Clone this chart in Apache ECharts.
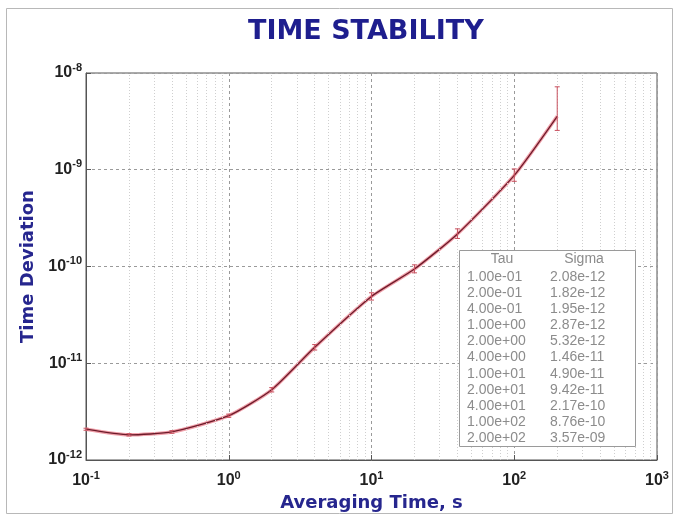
<!DOCTYPE html>
<html><head><meta charset="utf-8">
<script src="https://cdn.jsdelivr.net/npm/echarts@6/dist/echarts.min.js"></script>
<style>html,body{margin:0;padding:0;background:#fff}#c{width:674px;height:518px}</style>
</head><body><div id="c"></div>
<script>
// ---- data ----
const tau = [0.1, 0.2, 0.4, 1, 2, 4, 10, 20, 40, 100, 200];
const sigma = [2.08e-12, 1.82e-12, 1.95e-12, 2.87e-12, 5.32e-12, 1.46e-11, 4.90e-11, 9.42e-11, 2.17e-10, 8.76e-10, 3.57e-9];
const errLow = [2.03e-12, 1.77e-12, 1.89e-12, 2.76e-12, 5.05e-12, 1.37e-11, 4.5e-11, 8.6e-11, 1.95e-10, 7.6e-10, 2.55e-9];
const errHigh = [2.13e-12, 1.87e-12, 2.01e-12, 2.98e-12, 5.6e-12, 1.56e-11, 5.35e-11, 1.04e-10, 2.45e-10, 1.02e-9, 7.2e-9];
const xTickExp = [-1, 0, 1, 2, 3];
const yTickExp = [-12, -11, -10, -9, -8];
const titleText = 'TIME STABILITY';
const xName = 'Averaging Time, s';
const yName = 'Time Deviation';
const tableHead = ['Tau', 'Sigma'];

// ---- helpers ----
function fmtE(v) {
  const parts = v.toExponential(2).split('e');
  const e = +parts[1];
  return parts[0] + 'e' + (e < 0 ? '-' : '+') + String(Math.abs(e)).padStart(2, '0');
}
function expLabel(list) {
  return function (v) {
    const e = Math.round(Math.log10(v));
    if (list.indexOf(e) < 0) return '';
    return '{b|10}{s|' + e + '}';
  };
}
const minorX = [], minorY = [];
for (let d = xTickExp[0]; d < xTickExp[xTickExp.length - 1]; d++)
  for (let k = 2; k <= 9; k++) minorX.push(k * Math.pow(10, d));
for (let d = yTickExp[0]; d < yTickExp[yTickExp.length - 1]; d++)
  for (let k = 2; k <= 9; k++) minorY.push(k * Math.pow(10, d));

const lineData = tau.map((t, i) => [t, sigma[i]]);
const errData = tau.map((t, i) => [t, errLow[i], errHigh[i]]);

const rich = {
  b: { fontSize: 16, fontWeight: 'bold', color: '#222', fontFamily: 'Liberation Sans' },
  s: { fontSize: 11, fontWeight: 'bold', color: '#222', fontFamily: 'Liberation Sans', padding: [0, 0, 11, 0] }
};

const chart = echarts.init(document.getElementById('c'));
const rowsTau = tau.map(fmtE).join('\n');
const rowsSig = sigma.map(fmtE).join('\n');

chart.setOption({
  animation: false,
  backgroundColor: '#fff',
  title: {
    text: titleText, left: 243, top: 13,
    textStyle: { fontFamily: 'DejaVu Sans', fontWeight: 'bold', fontSize: 27, color: '#1e1e8e' }
  },
  grid: { left: 86, top: 73, right: 17, bottom: 58, show: true, borderColor: '#555', borderWidth: 1, backgroundColor: 'transparent' },
  xAxis: {
    type: 'log', logBase: 10, min: Math.pow(10, xTickExp[0]), max: Math.pow(10, xTickExp[xTickExp.length - 1]),
    name: xName, nameLocation: 'middle', nameGap: 31,
    nameTextStyle: { fontFamily: 'DejaVu Sans', fontWeight: 'bold', fontSize: 18, color: '#26268e' },
    axisLine: { show: true, lineStyle: { color: '#555', width: 1 } },
    axisTick: { show: true, inside: true, length: 5, lineStyle: { color: '#555' } },
    axisLabel: { formatter: expLabel(xTickExp), rich: rich, margin: 10 },
    splitLine: { show: true, lineStyle: { color: '#9a9a9a', type: [3, 3], width: 1 } },
    minorTick: { show: false }, minorSplitLine: { show: false }
  },
  yAxis: {
    type: 'log', logBase: 10, min: Math.pow(10, yTickExp[0]), max: Math.pow(10, yTickExp[yTickExp.length - 1]),
    name: yName, nameLocation: 'middle', nameGap: 48,
    nameTextStyle: { fontFamily: 'DejaVu Sans', fontWeight: 'bold', fontSize: 18, color: '#26268e' },
    axisLine: { show: true, lineStyle: { color: '#555', width: 1 } },
    axisTick: { show: true, inside: true, length: 5, lineStyle: { color: '#555' } },
    axisLabel: { formatter: expLabel(yTickExp), rich: rich, margin: 4 },
    splitLine: { show: true, lineStyle: { color: '#9a9a9a', type: [3, 3], width: 1 } }
  },
  series: [
    {
      name: 'grid-minor', type: 'line', data: [], silent: true,
      markLine: {
        silent: true, symbol: ['none', 'none'], label: { show: false },
        lineStyle: { color: '#cfcfcf', type: [1, 2], width: 1 },
        emphasis: { disabled: true },
        data: minorX.map(v => ({ xAxis: v })).concat(minorY.map(v => ({ yAxis: v })))
      }
    },
    {
      name: 'halo', type: 'line', data: lineData, smooth: 0.2, showSymbol: false, silent: true,
      lineStyle: { color: '#f0a0aa', width: 3.5 }, z: 3
    },
    {
      name: 'Sigma', type: 'line', data: lineData, smooth: 0.2, showSymbol: false,
      lineStyle: { color: '#6e1b2a', width: 1.3 }, z: 4
    },
    {
      name: 'err', type: 'custom', data: errData, z: 5, silent: true,
      encode: { x: 0, y: [1, 2] },
      renderItem: function (params, api) {
        const x = api.value(0);
        const lo = api.coord([x, api.value(1)]);
        const hi = api.coord([x, api.value(2)]);
        const c = 2.5;
        const st = { stroke: '#c8505e', lineWidth: 1 };
        return {
          type: 'group', children: [
            { type: 'line', shape: { x1: lo[0], y1: lo[1], x2: hi[0], y2: hi[1] }, style: st },
            { type: 'line', shape: { x1: lo[0] - c, y1: lo[1], x2: lo[0] + c, y2: lo[1] }, style: st },
            { type: 'line', shape: { x1: hi[0] - c, y1: hi[1], x2: hi[0] + c, y2: hi[1] }, style: st }
          ]
        };
      }
    }
  ],
  graphic: [
    { type: 'rect', silent: true, z: -10, shape: { x: 6.5, y: 8.5, width: 666, height: 505 }, style: { fill: 'none', stroke: '#b8b8b8', lineWidth: 1 } },
    { type: 'rect', z: 50, shape: { x: 459.5, y: 250.5, width: 176, height: 196 }, style: { fill: '#fff', stroke: '#9a9a9a', lineWidth: 1 } },
    { type: 'text', z: 51, x: 502, y: 259, style: { text: tableHead[0], font: '14px "Liberation Sans"', fill: '#8c8c8c', textAlign: 'center', textVerticalAlign: 'middle' } },
    { type: 'text', z: 51, x: 584, y: 259, style: { text: tableHead[1], font: '14px "Liberation Sans"', fill: '#8c8c8c', textAlign: 'center', textVerticalAlign: 'middle' } },
    { type: 'text', z: 51, x: 467, y: 269, style: { text: rowsTau, font: '14px "Liberation Sans"', lineHeight: 16.1, fill: '#8c8c8c', textAlign: 'left', textVerticalAlign: 'top' } },
    { type: 'text', z: 51, x: 550, y: 269, style: { text: rowsSig, font: '14px "Liberation Sans"', lineHeight: 16.1, fill: '#8c8c8c', textAlign: 'left', textVerticalAlign: 'top' } }
  ]
});
</script>
</body></html>
